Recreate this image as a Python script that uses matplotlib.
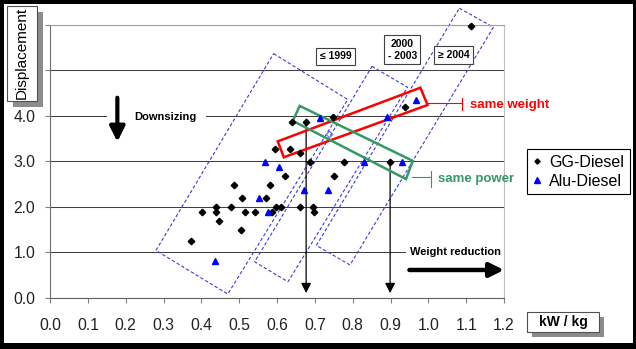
import matplotlib
matplotlib.use("Agg")
import matplotlib.pyplot as plt
from matplotlib.patches import Polygon, Rectangle

plt.rcParams['font.family'] = ['Liberation Sans', 'DejaVu Sans']

# --- data -------------------------------------------------------------
gg_kw_per_kg = [0.372, 0.401, 0.438, 0.440, 0.446, 0.478, 0.486, 0.504, 0.507,
                0.515, 0.541, 0.570, 0.581, 0.587, 0.598, 0.611, 0.622, 0.660,
                0.695, 0.699, 0.594, 0.635, 0.661, 0.686, 0.640, 0.677, 0.748,
                0.751, 0.777, 0.899, 0.939, 1.113]
gg_displacement = [1.24, 1.88, 1.88, 1.99, 1.68, 1.99, 2.48, 1.48, 2.19,
                   1.88, 1.88, 2.19, 2.48, 1.88, 1.99, 1.99, 2.68, 1.99,
                   1.99, 1.88, 3.28, 3.28, 3.18, 2.99, 3.87, 3.87, 3.98,
                   2.68, 2.99, 2.99, 4.19, 5.98]

alu_kw_per_kg = [0.435, 0.553, 0.576, 0.567, 0.605, 0.672, 0.734, 0.714,
                 0.829, 0.930, 0.891, 0.967]
alu_displacement = [0.80, 2.19, 1.88, 2.99, 2.88, 2.38, 2.38, 3.96,
                    2.98, 2.99, 3.98, 4.36]

open_kw_per_kg = [0.737]
open_displacement = [3.60]

x_ticks = [0.0, 0.1, 0.2, 0.3, 0.4, 0.5, 0.6, 0.7, 0.8, 0.9, 1.0, 1.1, 1.2]
x_tick_labels = ['0.0', '0.1', '0.2', '0.3', '0.4', '0.5', '0.6', '0.7',
                 '0.8', '0.9', '1.0', '1.1', '1.2']
y_ticks = [0, 1, 2, 3, 4, 5, 6]
y_tick_labels = ['0.0', '1.0', '2.0', '3.0', '4.0', '', '']

# model-year bands (kW/kg, displacement corners)
band_to_1999 = [(0.591, 5.37), (0.787, 4.36), (0.470, 0.08), (0.280, 1.04)]
band_2000_2003 = [(0.851, 5.09), (0.945, 4.63), (0.629, 0.35), (0.541, 0.79)]
band_from_2004 = [(1.082, 6.37), (1.172, 5.95), (0.793, 0.72), (0.704, 1.15)]

# comparison windows
same_weight_box = [(0.602, 3.44), (0.979, 4.62), (0.998, 4.24), (0.618, 3.09)]
same_power_box = [(0.660, 4.22), (0.959, 3.01), (0.941, 2.61), (0.642, 3.89)]

# drop lines from two engines to the x axis
drop_x = [0.677, 0.899]
drop_top = [3.87, 2.99]

# --- figure -------------------------------------------------------------
W, H = 636, 349
fig = plt.figure(figsize=(W / 100, H / 100), dpi=100)
fig.patch.set_facecolor('black')
fig.add_artist(Rectangle((4 / W, 1 - 343 / H), 629 / W, 339 / H,
                         transform=fig.transFigure, facecolor='white',
                         edgecolor='none', zorder=-5))

ax = fig.add_axes([50 / W, (H - 297.7) / H, 454 / W, (297.7 - 25) / H])
ax.set_xlim(0, 1.2)
ax.set_ylim(0, 6)
ax.set_facecolor('white')

ax.set_xticks(x_ticks)
ax.set_xticklabels(x_tick_labels)
ax.set_yticks(y_ticks)
ax.set_yticklabels(y_tick_labels)
ax.tick_params(axis='both', direction='out', length=3.6, width=0.8,
               color='#808080', labelsize=11.3, labelcolor='#222222')
ax.tick_params(axis='x', pad=11)
ax.tick_params(axis='y', pad=7)

ax.set_axisbelow(True)
ax.yaxis.grid(True, color='#404040', linewidth=0.75)
ax.spines['left'].set_color('#707070')
ax.spines['bottom'].set_color('#606060')
ax.spines['right'].set_color('#c0c0c0')
ax.spines['top'].set_color('#a0a0a0')
for s in ax.spines.values():
    s.set_linewidth(0.8)

# model-year bands
band_style = dict(closed=True, fill=False, edgecolor='#3a3ad8',
                  linewidth=0.8, linestyle=(0, (3, 2)), zorder=2,
                  clip_on=False)
for band in (band_to_1999, band_2000_2003, band_from_2004):
    ax.add_patch(Polygon(band, **band_style))

# comparison windows
red = '#ff0000'
green = '#339966'
ax.add_patch(Polygon(same_weight_box, closed=True, fill=False,
                     edgecolor=red, linewidth=1.8, zorder=5))
ax.add_patch(Polygon(same_power_box, closed=True, fill=False,
                     edgecolor=green, linewidth=1.8, zorder=5))

# leaders to the window captions
ax.plot([0.998, 1.09], [4.28, 4.28], color=red, lw=0.8, clip_on=False, zorder=5)
ax.plot([1.09, 1.09], [4.12, 4.40], color=red, lw=0.8, clip_on=False, zorder=5)
ax.text(1.11, 4.25, 'same weight', color=red, fontsize=9.5,
        fontweight='bold', va='center', ha='left', clip_on=False)
ax.plot([0.958, 1.007], [2.65, 2.65], color=green, lw=0.8, clip_on=False, zorder=5)
ax.plot([1.007, 1.007], [2.43, 2.79], color=green, lw=0.8, clip_on=False, zorder=5)
ax.text(1.025, 2.62, 'same power', color=green, fontsize=9.5,
        fontweight='bold', va='center', ha='left', clip_on=False)

# drop lines
for x0, y0 in zip(drop_x, drop_top):
    ax.annotate('', xy=(x0, 0.10), xytext=(x0, y0),
                arrowprops=dict(arrowstyle='-|>,head_length=0.6,head_width=0.3',
                                color='black', lw=0.9, shrinkA=0, shrinkB=0),
                zorder=3)

# scatter series
ax.plot(gg_kw_per_kg, gg_displacement, linestyle='none', marker='D',
        markersize=3.3, color='black', label='GG-Diesel', zorder=6,
        clip_on=False)
ax.plot(alu_kw_per_kg, alu_displacement, linestyle='none', marker='^',
        markersize=5, color='#0000ff', label='Alu-Diesel', zorder=6)
ax.plot(open_kw_per_kg, open_displacement, linestyle='none', marker='D',
        markersize=3.3, markerfacecolor='none', markeredgecolor='#6a6ad8',
        markeredgewidth=0.8, zorder=6)

# downsizing
ax.add_patch(Rectangle((0.150, 3.9), 0.263, 0.2, facecolor='white',
                       edgecolor='none', zorder=2))
ax.annotate('', xy=(0.178, 3.43), xytext=(0.178, 4.40),
            arrowprops=dict(arrowstyle='-|>,head_length=0.9,head_width=0.45',
                            color='black', lw=3, shrinkA=0, shrinkB=0),
            zorder=4)
ax.text(0.224, 3.98, 'Downsizing', fontsize=8, fontweight='bold',
        va='center', ha='left', zorder=4)

# weight reduction
ax.add_patch(Rectangle((0.941, 0.93), 0.259, 0.15, facecolor='white',
                       edgecolor='none', zorder=2))
ax.text(0.9525, 1.006, 'Weight reduction', fontsize=8, fontweight='bold',
        va='center', ha='left', zorder=4)
ax.annotate('', xy=(1.2, 0.61), xytext=(0.95, 0.61),
            arrowprops=dict(arrowstyle='-|>,head_length=0.85,head_width=0.42',
                            color='black', lw=3.2, shrinkA=0, shrinkB=0),
            zorder=4, annotation_clip=False)

# band captions
cap_box = dict(boxstyle='square,pad=0.35', facecolor='white',
               edgecolor='#404040', linewidth=0.8)
ax.text(0.755, 5.31, '≤ 1999', fontsize=7.5, fontweight='bold', ha='center',
        va='center', bbox=cap_box, zorder=7)
ax.text(0.931, 5.46, '2000\n- 2003', fontsize=7.5, fontweight='bold',
        ha='center', va='center', bbox=cap_box, zorder=7, linespacing=1.25)
ax.text(1.067, 5.34, '≥ 2004', fontsize=7.5, fontweight='bold', ha='center',
        va='center', bbox=cap_box, zorder=7, clip_on=False)

# legend
leg = ax.legend(loc='upper left', bbox_to_anchor=(527 / W, 1 - 149 / H),
                bbox_transform=fig.transFigure, frameon=True, fancybox=False,
                edgecolor='black', framealpha=1, fontsize=11.5,
                handlelength=0.6, handletextpad=0.45, borderpad=0.35,
                labelspacing=0.25, borderaxespad=0, markerscale=0.8)
leg.get_frame().set_linewidth(0.8)


# axis titles as shadowed boxes
def shadow_box(x0, y0, x1, y1, off=6):
    fig.add_artist(Rectangle(((x0 + off) / W, 1 - (y1 + off) / H),
                             (x1 - x0) / W, (y1 - y0) / H,
                             transform=fig.transFigure, facecolor='#8c8c8c',
                             edgecolor='none', zorder=2))
    fig.add_artist(Rectangle((x0 / W, 1 - y1 / H), (x1 - x0) / W, (y1 - y0) / H,
                             transform=fig.transFigure, facecolor='white',
                             edgecolor='#505050', linewidth=0.8, zorder=3))


shadow_box(6.7, 6, 36.7, 100.7)
fig.text(21.7 / W, 1 - 53.3 / H, 'Displacement', rotation=90, fontsize=11,
         ha='center', va='center', zorder=4)
shadow_box(526.7, 311.7, 599, 332.3, off=5)
fig.text(563 / W, 1 - 322 / H, 'kW / kg', fontsize=10, fontweight='bold',
         ha='center', va='center', zorder=4)

fig.savefig('out.png', dpi=100, facecolor=fig.get_facecolor())
